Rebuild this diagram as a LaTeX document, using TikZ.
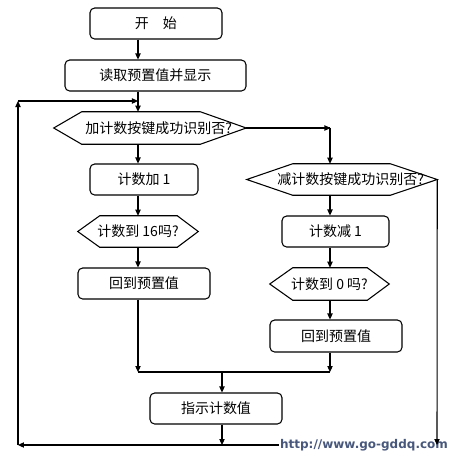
\documentclass[tikz,border=0pt]{standalone}
\usepackage{fontspec}
\setmainfont{Noto Sans CJK SC}
\newfontfamily\wmfont{DejaVu Sans}
\usetikzlibrary{arrows.meta,calc}
\definecolor{wmcol}{RGB}{72,88,124}
\tikzset{
  ln/.style={line width=0.8pt},
  arr/.style={ln,-{Triangle[length=4.5pt,width=4pt]}},
  rbox/.style args={#1/#2}{draw,line width=0.8pt,rounded corners=3.5pt,
     minimum width=#1*0.75pt,minimum height=#2*0.75pt,inner sep=0pt,font=\fontsize{10.5}{12}\selectfont},
  hbox/.style args={#1/#2}{draw=none,minimum width=#1*0.75pt,minimum height=#2*0.75pt,
     inner sep=0pt,font=\fontsize{10.5}{12}\selectfont},
}
\newcommand\hexdraw[3]{%
  \draw[ln] (#1.west) -- ($(#1.north west)+(#2,0)$) -- ($(#1.north east)+(-#3,0)$) -- (#1.east)
    -- ($(#1.south east)+(-#3,0)$) -- ($(#1.south west)+(#2,0)$) -- cycle;}
\begin{document}
\begin{tikzpicture}[x=0.75pt,y=-0.75pt]
\useasboundingbox[fill=white] (0,0) rectangle (458,462);
% boxes
\node[rbox=132/31] (start) at (156,23.5) {开\hspace{1em}始};
\node[rbox=181/31] (read) at (155.5,75.5) {读取预置值并显示};
\node[hbox=192/32] (h1) at (150,128) {\hspace*{13pt}加计数按键成功识别否?};
\hexdraw{h1}{28}{46}
\node[rbox=108/31] (add) at (144,179.5) {计数加 1};
\node[hbox=120/31] (h16) at (138,231.5) {计数到 16吗?};
\hexdraw{h16}{22}{21}
\node[rbox=132/31] (backL) at (144,283.5) {回到预置值};
\node[hbox=190/31] (h2) at (342,179.5) {\hspace*{13pt}减计数按键成功识别否?};
\hexdraw{h2}{46}{47}
\node[rbox=107/31] (sub) at (335.5,231.5) {计数减 1};
\node[hbox=119/32] (h0) at (329.5,284) {计数到 0 吗?};
\hexdraw{h0}{23}{22}
\node[rbox=132/32] (backR) at (336,336) {回到预置值};
\node[rbox=132/31] (show) at (216,408.5) {指示计数值};
% coordinates
\coordinate (loopTL) at (18,101);
\coordinate (loopIn) at (138,101);
\coordinate (loopBL) at (18,445);
\coordinate (rTop) at (330,128);
\coordinate (jL) at (138,372);
\coordinate (jR) at (330,372);
\coordinate (jM) at (222,372);
\coordinate (bM) at (222,445);
\coordinate (bR) at (437,445);
% left column
\draw[arr] (start.south -| loopIn) -- (read.north -| loopIn);
\draw[arr] (read.south -| loopIn) -- (h1.north -| loopIn);
\draw[arr] (h1.south -| loopIn) -- (add.north -| loopIn);
\draw[arr] (add.south -| loopIn) -- (h16.north -| loopIn);
\draw[arr] (h16.south -| loopIn) -- (backL.north -| loopIn);
\draw[arr] (backL.south -| jL) -- (jL);
% right column
\draw[ln] (h1.east) -- (rTop);
\draw[arr] (h1.east) -- ($(rTop)+(0.5,0)$);
\draw[arr] (rTop) -- (h2.north -| rTop);
\draw[arr] (h2.south -| rTop) -- (sub.north -| rTop);
\draw[arr] (sub.south -| rTop) -- (h0.north -| rTop);
\draw[arr] (h0.south -| rTop) -- (backR.north -| rTop);
\draw[arr] (backR.south -| jR) -- (jR);
% join
\draw[ln] (jL) -- (jR);
\draw[arr] (jM) -- (show.north -| jM);
\draw[arr] (show.south -| bM) -- (bM);
% loop back
\draw[arr] (bR) -- (loopBL);
\draw[arr] (loopBL) -- (loopTL);
\draw[arr] (loopTL) -- (loopIn);
% watermark
\node[fill=white,inner sep=0.5pt,text=wmcol,font=\wmfont\bfseries\fontsize{9}{10}\selectfont] (wm) at (364,445) {http://www.go-gddq.com};
\draw[arr] (h2.east) -- (bR);
\end{tikzpicture}
\end{document}
